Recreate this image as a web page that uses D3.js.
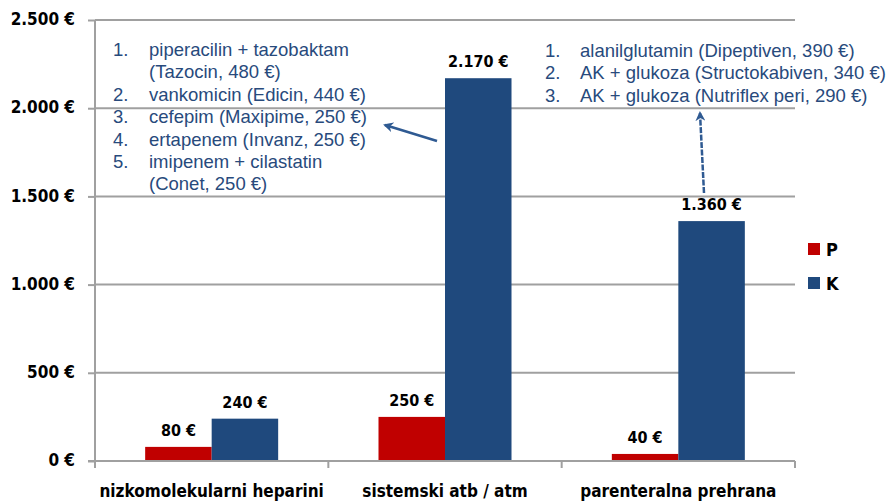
<!DOCTYPE html>
<html>
<head>
<meta charset="utf-8">
<script src="https://cdn.jsdelivr.net/npm/d3@7"></script>
<style>
  html, body { margin: 0; padding: 0; background: #fff; }
  svg { display: block; }
  .lbl { font-family: "DejaVu Sans Condensed", "DejaVu Sans", sans-serif; font-stretch: condensed; font-weight: bold; fill: #000; }
  .note { font-family: "Liberation Sans", Arial, sans-serif; fill: #284A7C; }
</style>
</head>
<body>
<svg id="chart" width="891" height="504"></svg>
<script>
// ---- data ----
const categories = ["nizkomolekularni heparini", "sistemski atb / atm", "parenteralna prehrana"];
const seriesNames = ["P", "K"];
const valuesP = [80, 250, 40];
const valuesK = [240, 2170, 1360];
const yTicks = [0, 500, 1000, 1500, 2000, 2500];
const noteLeftNums = ["1.", "", "2.", "3.", "4.", "5.", ""];
const noteLeftText = ["piperacilin + tazobaktam", "(Tazocin, 480 €)", "vankomicin (Edicin, 440 €)",
  "cefepim (Maxipime, 250 €)", "ertapenem (Invanz, 250 €)", "imipenem + cilastatin", "(Conet, 250 €)"];
const noteRightNums = ["1.", "2.", "3."];
const noteRightText = ["alanilglutamin (Dipeptiven, 390 €)", "AK + glukoza (Structokabiven, 340 €)",
  "AK + glukoza (Nutriflex peri, 290 €)"];

// ---- layout ----
const colors = { P: "#C00000", K: "#1F497D" };
const gridColor = "#A0A0A0";
const plot = { left: 95, right: 795, top: 20, bottom: 461 };

const svg = d3.select("#chart");

const x0 = d3.scaleBand().domain(categories).range([plot.left, plot.right])
  .paddingInner(0.43).paddingOuter(0.215);
const x1 = d3.scaleBand().domain(seriesNames).range([0, x0.bandwidth()]);
const y = d3.scaleLinear().domain([0, 2500]).range([plot.bottom, plot.top]);

const fmt = v => d3.formatLocale({ decimal: ",", thousands: ".", grouping: [3], currency: ["", " €"] }).format(",")(v) + " €";

// gridlines
svg.append("g").selectAll("line").data(yTicks.filter(t => t > 0)).join("line")
  .attr("x1", plot.left).attr("x2", plot.right)
  .attr("y1", d => y(d)).attr("y2", d => y(d))
  .attr("stroke", gridColor).attr("stroke-width", 2);

// y axis
const yAxis = svg.append("g").attr("transform", `translate(${plot.left},0)`)
  .call(d3.axisLeft(y).tickValues(yTicks).tickSize(7).tickFormat(fmt).tickPadding(13));
yAxis.select(".domain").attr("stroke", gridColor).attr("stroke-width", 2).attr("d", `M0,${plot.top}V${plot.bottom}`);
yAxis.selectAll(".tick line").attr("stroke", gridColor).attr("stroke-width", 2);
yAxis.selectAll(".tick text").attr("class", "lbl").attr("font-size", 17).attr("dy", "0.28em").attr("fill", "#000");

// bars
const rows = categories.map((c, i) => ({ cat: c, vals: [{ k: "P", v: valuesP[i] }, { k: "K", v: valuesK[i] }] }));
const grp = svg.append("g").selectAll("g").data(rows).join("g")
  .attr("transform", d => `translate(${x0(d.cat)},0)`);
grp.selectAll("rect").data(d => d.vals).join("rect")
  .attr("x", d => x1(d.k)).attr("width", x1.bandwidth())
  .attr("y", d => y(d.v)).attr("height", d => y(0) - y(d.v))
  .attr("fill", d => colors[d.k]);
grp.selectAll("text").data(d => d.vals).join("text")
  .attr("class", "lbl").attr("font-size", 16)
  .attr("text-anchor", "middle")
  .attr("x", d => x1(d.k) + x1.bandwidth() / 2)
  .attr("y", d => y(d.v) - 11)
  .text(d => fmt(d.v));

// x axis
const xAxisG = svg.append("g");
xAxisG.append("line").attr("x1", plot.left - 7).attr("x2", plot.right)
  .attr("y1", plot.bottom).attr("y2", plot.bottom).attr("stroke", gridColor).attr("stroke-width", 2);
const bounds = [plot.left].concat(categories.map(c => x0(c) - x0.step() * x0.paddingInner() / 2 + x0.step()));
xAxisG.selectAll("line.tk").data(bounds).join("line").attr("class", "tk")
  .attr("x1", d => d).attr("x2", d => d)
  .attr("y1", plot.bottom).attr("y2", plot.bottom + 7)
  .attr("stroke", gridColor).attr("stroke-width", 2);
xAxisG.selectAll("text").data(categories).join("text")
  .attr("class", "lbl").attr("font-size", 17).attr("text-anchor", "middle")
  .attr("x", d => x0(d) + x0.bandwidth() / 2).attr("y", 497)
  .text(d => d);

// legend
const leg = svg.append("g").selectAll("g").data(seriesNames).join("g")
  .attr("transform", (d, i) => `translate(808,${243 + i * 34})`);
leg.append("rect").attr("width", 12).attr("height", 12).attr("fill", d => colors[d]);
leg.append("text").attr("class", "lbl").attr("font-size", 18).attr("x", 18).attr("y", 13).text(d => d);

// annotation lists
const lh = 22.4;
const nfs = 18.5;
const nl = svg.append("g");
noteLeftText.forEach((t, i) => {
  nl.append("text").attr("class", "note").attr("font-size", nfs).attr("x", 113).attr("y", 56 + i * lh).text(noteLeftNums[i]);
  nl.append("text").attr("class", "note").attr("font-size", nfs).attr("x", 149).attr("y", 56 + i * lh).text(t);
});
const nr = svg.append("g");
noteRightText.forEach((t, i) => {
  nr.append("text").attr("class", "note").attr("font-size", nfs).attr("x", 545).attr("y", 57 + i * lh).text(noteRightNums[i]);
  nr.append("text").attr("class", "note").attr("font-size", nfs).attr("x", 580).attr("y", 57 + i * lh).text(t);
});

// arrows
const defs = svg.append("defs");
defs.append("marker").attr("id", "ah").attr("viewBox", "0 0 10 10").attr("refX", 8).attr("refY", 5)
  .attr("markerWidth", 4).attr("markerHeight", 4).attr("orient", "auto")
  .append("path").attr("d", "M0,0L10,5L0,10L3,5Z").attr("fill", "#2F5A92");
svg.append("line").attr("x1", 437).attr("y1", 141).attr("x2", 385).attr("y2", 125)
  .attr("stroke", "#2F5A92").attr("stroke-width", 2.5).attr("marker-end", "url(#ah)");
svg.append("line").attr("x1", 704).attr("y1", 193).attr("x2", 700).attr("y2", 113)
  .attr("stroke", "#2F5A92").attr("stroke-width", 2.5).attr("stroke-dasharray", "6,1.5").attr("marker-end", "url(#ah)");
</script>
</body>
</html>
